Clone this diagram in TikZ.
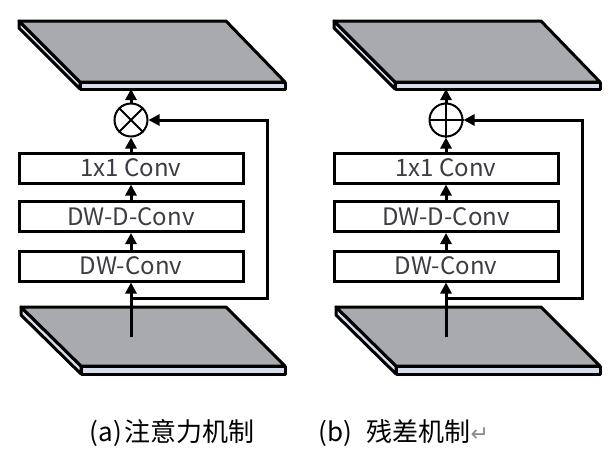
\documentclass[tikz,border=0pt]{standalone}
\usepackage{fontspec}
\newfontfamily\cjk{Noto Sans CJK SC}
\newfontfamily\symb{DejaVu Sans}
\usetikzlibrary{arrows.meta}
\definecolor{slabgray}{RGB}{168,170,174}
\definecolor{slabedge}{RGB}{214,222,236}
\definecolor{labelgray}{RGB}{60,60,66}

\tikzset{
  >={Triangle[length=11pt,width=11pt]},
  convbox/.style={draw, line width=3pt, minimum width=224pt, minimum height=30pt, inner sep=0pt,
    text=labelgray, font=\cjk\fontsize{24}{26}\selectfont},
  opcirc/.style={draw, circle, line width=2pt, minimum size=33pt, inner sep=0pt},
  slabtop/.style={fill=slabgray, draw, line width=3pt, line join=round},
  slabside/.style={fill=slabedge, draw, line width=3pt, line join=round},
  flow/.style={->, line width=3pt},
}

\begin{document}
\begin{tikzpicture}[x=1pt, y=1pt]
\useasboundingbox (0,0) rectangle (612,-453);
% (a) left panel
\draw [slabside] (19,-21) -- (80,-82) -- (80,-89) -- (19,-28) -- cycle;
\draw [slabside] (80,-82) -- (285,-82) -- (285,-89) -- (80,-89) -- cycle;
\draw [slabtop] (19,-21) -- (226,-21) -- (285,-82) -- (80,-82) -- cycle;
\draw [slabside] (21,-307) -- (81,-366) -- (81,-374) -- (21,-315) -- cycle;
\draw [slabside] (81,-366) -- (285,-366) -- (285,-374) -- (81,-374) -- cycle;
\draw [slabtop] (21,-307) -- (226,-307) -- (285,-366) -- (81,-366) -- cycle;
\node [opcirc] (mulA) at (131,-120) {};
\draw [line width=2pt] (mulA.north east) -- (mulA.south west) (mulA.north west) -- (mulA.south east);
\node [convbox] (convA) at (131,-168) {1x1 Conv};
\node [convbox] (dwdA) at (131,-216.5) {DW-D-Conv};
\node [convbox] (dwA) at (131,-266) {DW-Conv};
\coordinate (inA) at (131,-337);
\coordinate (outA) at (131,-89);
\coordinate (skipA) at (131,-298);
\coordinate (turnA) at (267,-298);
\draw [flow] (inA) to (dwA);
\draw [flow] (dwA) to (dwdA);
\draw [flow] (dwdA) to (convA);
\draw [flow] (convA) to (mulA);
\draw [flow] (mulA) to (outA);
\draw [flow, line join=miter] (skipA) -- (turnA) |- (mulA.east);
\node [font=\cjk\fontsize{26}{30}\selectfont] (capA) at (172,-433) {(a)\hspace{2pt}注意力机制};
% (b) right panel
\draw [slabside] (334,-21) -- (395,-82) -- (395,-89) -- (334,-28) -- cycle;
\draw [slabside] (395,-82) -- (600,-82) -- (600,-89) -- (395,-89) -- cycle;
\draw [slabtop] (334,-21) -- (541,-21) -- (600,-82) -- (395,-82) -- cycle;
\draw [slabside] (336,-307) -- (396,-366) -- (396,-374) -- (336,-315) -- cycle;
\draw [slabside] (396,-366) -- (600,-366) -- (600,-374) -- (396,-374) -- cycle;
\draw [slabtop] (336,-307) -- (541,-307) -- (600,-366) -- (396,-366) -- cycle;
\node [opcirc] (addB) at (446,-120) {};
\draw [line width=2pt] (addB.north) -- (addB.south) (addB.west) -- (addB.east);
\node [convbox] (convB) at (446,-168) {1x1 Conv};
\node [convbox] (dwdB) at (446,-216.5) {DW-D-Conv};
\node [convbox] (dwB) at (446,-266) {DW-Conv};
\coordinate (inB) at (446,-337);
\coordinate (outB) at (446,-89);
\coordinate (skipB) at (446,-298);
\coordinate (turnB) at (582,-298);
\draw [flow] (inB) to (dwB);
\draw [flow] (dwB) to (dwdB);
\draw [flow] (dwdB) to (convB);
\draw [flow] (convB) to (addB);
\draw [flow] (addB) to (outB);
\draw [flow, line join=miter] (skipB) -- (turnB) |- (addB.east);
\node [font=\cjk\fontsize{26}{30}\selectfont] (capB) at (404,-433) {(b)\hspace{14pt}残差机制\textcolor{black!45}{\symb\fontsize{22}{24}\selectfont ↵}};
\end{tikzpicture}
\end{document}
